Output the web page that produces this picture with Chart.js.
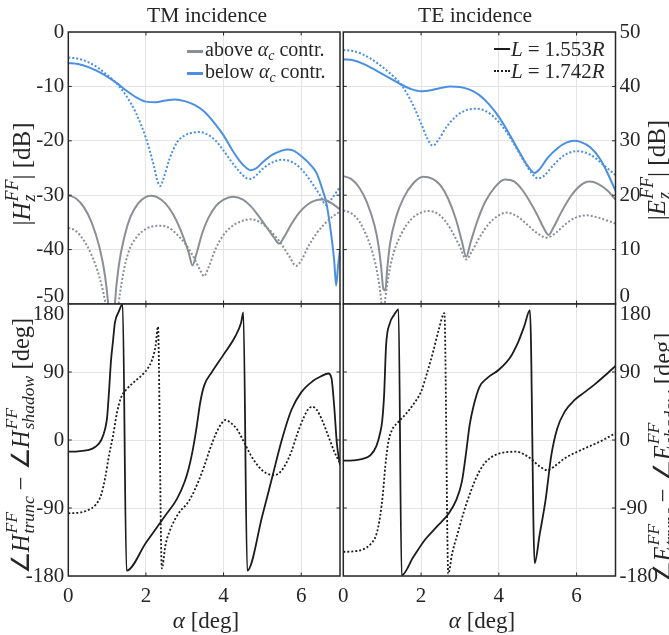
<!DOCTYPE html>
<html><head><meta charset="utf-8">
<script src="https://cdn.jsdelivr.net/npm/chart.js@4/dist/chart.umd.min.js"></script>
<style>
html,body{margin:0;padding:0;background:#fff;}
#wrap{position:relative;width:669px;height:635px;overflow:hidden;font-family:"Liberation Serif","Times New Roman",serif;color:#262626;}
canvas{position:absolute;left:0;top:0;}
.t{position:absolute;white-space:nowrap;transform:translate(-50%,-50%);line-height:1;}
.rot{transform:translate(-50%,-50%) rotate(-90deg);}
.lg{position:absolute;white-space:nowrap;transform:translateY(-50%);line-height:1;font-size:20px;}
.sw{position:absolute;height:0;}
.ss{display:inline-block;vertical-align:-0.3em;font-size:0.72em;line-height:0.95;font-style:italic;text-align:left;margin-left:1px;}
.ss span{display:block;}
sub{font-size:0.7em;vertical-align:-0.25em;font-style:italic;}
.eq{margin:0 5px;}
</style></head>
<body><div id="wrap">
<canvas id="c1" width="669" height="635"></canvas>
<canvas id="c2" width="669" height="635"></canvas>
<canvas id="c3" width="669" height="635"></canvas>
<canvas id="c4" width="669" height="635"></canvas>

<div class="t" style="left:207px;top:16px;font-size:21.5px;">TM incidence</div>
<div class="t" style="left:475px;top:16px;font-size:21.5px;">TE incidence</div>

<div class="t rot" style="left:21px;top:174px;font-size:25px;">|<i>H</i><span class="ss"><span>FF</span><span>z</span></span>| [dB]</div>
<div class="t rot" style="left:656px;top:170px;font-size:25px;">|<i>E</i><span class="ss"><span>FF</span><span>z</span></span>| [dB]</div>
<div class="t rot" style="left:20px;top:446px;font-size:24.5px;">∠<i>H</i><span class="ss"><span>FF</span><span>trunc</span></span> − ∠<i>H</i><span class="ss"><span>FF</span><span>shadow</span></span> [deg]</div>
<div class="t rot" style="left:662px;top:458px;font-size:24.5px;">∠<i>E</i><span class="ss"><span>FF</span><span>trunc</span></span> − ∠<i>E</i><span class="ss"><span>FF</span><span>shadow</span></span> [deg]</div>

<div class="t" style="left:206px;top:620px;font-size:23px;"><i>α</i> [deg]</div>
<div class="t" style="left:482px;top:620px;font-size:23px;"><i>α</i> [deg]</div>

<div class="sw" style="left:187px;top:50px;width:16px;border-top:3px solid #8b8e97;"></div>
<div class="lg" style="left:205px;top:51px;">above <i>α</i><sub>c</sub> contr.</div>
<div class="sw" style="left:187px;top:72px;width:16px;border-top:3px solid #4a90e2;"></div>
<div class="lg" style="left:205px;top:73px;">below <i>α</i><sub>c</sub> contr.</div>

<div class="sw" style="left:494px;top:48px;width:16px;border-top:2px solid #1c1c1c;"></div>
<div class="lg" style="left:511px;top:49px;font-size:21px;"><i>L</i><span class="eq">=</span>1.553<i>R</i></div>
<div class="sw" style="left:494px;top:70px;width:16px;border-top:2px dotted #1c1c1c;"></div>
<div class="lg" style="left:511px;top:71px;font-size:21px;"><i>L</i><span class="eq">=</span>1.742<i>R</i></div>
</div>
<script>
// ---------------- DATA ----------------
const X_TICKS = [0, 2, 4, 6];
const TM_DB_TICKS = [0, -10, -20, -30, -40, -50];
const TE_DB_TICKS = [50, 40, 30, 20, 10, 0];
const PHASE_TICKS = [180, 90, 0, -90, -180];

// TM incidence |Hz| [dB]
const TM_BELOW_1553_A = [0,0.25,0.5,0.75,1,1.25,1.5,1.75,2,2.25,2.5,2.75,3,3.25,3.5,3.75,4,4.25,4.5,4.7,4.85,5,5.25,5.5,5.65,5.8,6,6.25,6.4,6.55,6.65,6.75,6.85,6.9,6.95,7];
const TM_BELOW_1553 = [-5.7,-5.9,-6.4,-7.2,-8.2,-9.4,-10.8,-12.0,-12.8,-12.9,-12.6,-12.4,-12.7,-13.4,-14.6,-16.6,-19.0,-22.0,-24.4,-25.4,-25.0,-24.0,-22.6,-21.8,-21.6,-21.8,-22.8,-24.5,-26.0,-29.0,-31.5,-36,-42,-46.6,-43,-40];
const TM_BELOW_1742_A = [0,0.25,0.5,0.75,1,1.25,1.5,1.75,2,2.2,2.3,2.37,2.45,2.6,2.8,3,3.2,3.4,3.6,3.8,4,4.2,4.4,4.6,4.7,4.85,5,5.25,5.5,5.7,5.9,6.1,6.3,6.5,6.63,6.75,6.9,7];
const TM_BELOW_1742 = [-4.7,-4.9,-5.5,-6.5,-7.9,-9.5,-11.8,-15.0,-19.5,-24.5,-27.5,-28.3,-27.0,-23.5,-20.3,-19.0,-18.5,-18.4,-18.9,-20.0,-21.8,-23.8,-25.6,-26.9,-27.0,-26.3,-25.2,-24.0,-23.5,-23.7,-24.5,-26.0,-28.0,-30.2,-31.8,-31.0,-29.5,-28.5];
const TM_ABOVE_1553_A = [0,0.2,0.4,0.6,0.8,0.95,1.05,1.12,1.2,1.3,1.45,1.6,1.8,2,2.15,2.3,2.5,2.7,2.9,3.1,3.2,3.3,3.45,3.6,3.8,4,4.25,4.5,4.7,4.9,5.1,5.3,5.43,5.55,5.75,5.95,6.15,6.35,6.55,6.75,7];
const TM_ABOVE_1553 = [-30.0,-30.6,-32.2,-35.0,-39.5,-45,-52,-62,-50,-43,-37.5,-34.0,-31.5,-30.3,-30.1,-30.4,-31.5,-33.5,-36.5,-40.5,-42.9,-40.8,-37.0,-34.3,-32.0,-30.8,-30.3,-30.8,-32.0,-33.8,-35.8,-37.8,-38.9,-37.8,-35.3,-33.2,-31.8,-31.0,-30.8,-31.3,-32.6];
const TM_ABOVE_1742_A = [0,0.2,0.4,0.6,0.8,0.95,1.1,1.18,1.27,1.4,1.55,1.75,2,2.2,2.4,2.6,2.8,3,3.2,3.4,3.5,3.6,3.8,4,4.2,4.45,4.7,4.95,5.2,5.45,5.7,5.87,6,6.2,6.4,6.6,6.8,7];
const TM_ABOVE_1742 = [-36.0,-36.6,-38.3,-41.0,-45.0,-49.5,-56,-62,-52,-45,-40.5,-37.8,-36.2,-35.7,-35.6,-36.0,-37.2,-38.8,-41.0,-43.8,-44.9,-43.5,-39.8,-37.3,-35.8,-34.8,-34.4,-35.0,-36.5,-38.6,-41.3,-43.0,-42.0,-39.2,-37.0,-35.3,-34.0,-33.0];

// TE incidence |Ez| [dB]
const TE_BELOW_1553_A = [0,0.25,0.5,0.75,1,1.25,1.5,1.75,2,2.25,2.5,2.75,3,3.25,3.5,3.75,4,4.25,4.5,4.75,4.92,5.05,5.25,5.5,5.75,5.93,6.1,6.35,6.6,6.8,7];
const TE_BELOW_1553 = [45.0,44.8,44.2,43.3,42.3,41.3,40.3,39.5,39.1,39.3,39.7,40.0,39.9,39.4,38.4,36.7,34.4,31.5,28.3,25.3,24.1,24.8,26.8,28.6,29.7,30.0,29.8,28.8,26.7,24.0,20.8];
const TE_BELOW_1742_A = [0,0.25,0.5,0.75,1,1.25,1.5,1.75,2,2.15,2.3,2.45,2.65,2.9,3.15,3.4,3.65,3.9,4.15,4.4,4.65,4.85,5,5.15,5.4,5.65,5.85,6,6.2,6.45,6.7,7];
const TE_BELOW_1742 = [46.7,46.5,45.9,44.9,43.6,42.1,40.2,37.2,33.2,30.6,29.1,30.2,32.5,34.5,35.6,35.9,35.5,34.2,32.1,29.3,26.2,24.0,23.1,23.5,25.5,27.2,27.9,28.1,27.9,27.0,25.5,23.7];
const TE_ABOVE_1553_A = [0,0.2,0.4,0.6,0.8,0.9,0.97,1.03,1.08,1.13,1.2,1.35,1.55,1.8,2.05,2.3,2.5,2.7,2.9,3.05,3.16,3.28,3.45,3.65,3.9,4.15,4.4,4.6,4.8,5,5.15,5.28,5.4,5.6,5.85,6.1,6.33,6.55,6.8,7];
const TE_ABOVE_1553 = [23.5,23.0,21.5,18.8,14.5,11.0,7.0,2.8,2.5,6.5,11.0,15.8,19.5,22.2,23.4,23.0,21.8,19.3,15.5,11.5,8.7,11.5,15.3,18.8,21.5,22.9,22.5,21.0,18.8,16.2,14.0,12.7,14.0,16.8,19.8,21.8,22.5,22.1,20.8,19.2];
const TE_ABOVE_1742_A = [0,0.2,0.4,0.6,0.75,0.88,0.97,1.02,1.08,1.17,1.3,1.5,1.75,2,2.2,2.45,2.65,2.85,3,3.16,3.3,3.5,3.75,4,4.2,4.45,4.7,4.95,5.23,5.45,5.7,5.95,6.25,6.55,6.8,7];
const TE_ABOVE_1742 = [17.2,16.7,15.3,12.5,9.5,5.5,1.0,-3,1.0,5.5,9.5,13.0,15.6,16.8,17.1,16.5,15.0,12.6,10.5,8.2,9.6,12.2,14.8,16.3,16.8,16.2,14.8,13.2,12.2,13.0,14.6,15.8,16.3,15.9,15.3,14.8];

// TM phase difference [deg]
const TM_PH_1553_A = [0,0.25,0.5,0.7,0.85,0.95,1,1.05,1.1,1.15,1.2,1.3,1.4,1.5,2,2.5,2.8,3,3.1,3.2,3.3,3.4,3.5,3.7,4,4.3,4.45,4.51,4.61,5,5.25,5.5,5.75,6,6.3,6.5,6.7,6.78,6.85,6.92,7];
const TM_PH_1553 = [-15.5,-15.0,-13.5,-9,0,15,30,65,105,130,155,170,180,-173,-136,-100,-78,-55,-38,-15,15,50,72,90,113,137,155,169,-173,-100,-50,0,40,63,78,84,88,82,45,-5,-33];
const TM_PH_1742_A = [0,0.3,0.5,0.7,0.85,0.95,1.05,1.15,1.25,1.35,1.5,1.7,1.9,2.05,2.15,2.25,2.31,2.41,2.5,2.6,2.75,2.9,3.05,3.2,3.35,3.5,3.65,3.8,3.95,4.05,4.2,4.35,4.5,4.7,4.9,5.1,5.3,5.45,5.6,5.75,5.9,6.05,6.17,6.28,6.4,6.55,6.7,6.85,7];
const TM_PH_1742 = [-97,-96,-93,-86,-72,-50,-20,5,35,55,67,77,86,95,105,125,150,-170,-140,-122,-105,-93,-85,-72,-55,-35,-12,8,22,26.5,22,14,0,-20,-35,-44,-46.5,-43,-32,-15,8,28,40,44,40,25,5,-15,-31];

// TE phase difference [deg]
const TE_PH_1553_A = [0,0.25,0.5,0.7,0.85,0.95,1,1.05,1.1,1.2,1.3,1.42,1.5,1.8,2.1,2.4,2.7,2.9,3.05,3.15,3.25,3.35,3.5,3.7,4,4.3,4.5,4.65,4.8,4.92,5.05,5.2,5.35,5.5,5.7,5.95,6.2,6.45,6.7,7];
const TE_PH_1553 = [-27.4,-27,-25,-20,-8,10,25,60,125,155,165,173,-179,-155,-132,-115,-98,-80,-55,-20,20,45,70,82,93,110,130,150,172,-163,-125,-80,-20,15,38,53,63,73,84,98];
const TE_PH_1742_A = [0,0.25,0.5,0.7,0.85,0.95,1.02,1.08,1.15,1.25,1.4,1.6,1.8,2,2.15,2.3,2.45,2.6,2.7,2.8,2.95,3.1,3.25,3.4,3.6,3.8,4,4.2,4.45,4.65,4.85,5.05,5.25,5.45,5.7,6,6.3,6.6,7];
const TE_PH_1742 = [-148,-147.5,-145,-138,-125,-100,-70,-35,-5,13,23,34,47,64,88,115,145,168,-177,-150,-122,-95,-72,-52,-33,-23,-18,-16,-15.5,-19,-26,-35,-40,-34,-24,-16,-9,-2,8.8];

// ---------------- STYLE ----------------
const BLUE = '#4a90e2', GRAY = '#8b8e97', BLACK = '#1c1c1c', INK = '#262626';
const FONT = '"Liberation Serif", "Times New Roman", serif';
const TICK_SIZE = 21;
const W = 669, H = 635;
const XL = [68.3, 340], XR = [343.3, 615.5], YT = [32, 304], YB = [304, 576];

function pts(a, v) { return a.map((x, i) => ({x: x, y: v[i]})); }
function ds(a, v, color, dotted, w) {
  return {data: pts(a, v), borderColor: color, borderWidth: w, borderDash: dotted ? [2, 2] : [],
    pointRadius: 0, fill: false, cubicInterpolationMode: 'monotone'};
}

const framePlugin = {
  id: 'frame',
  afterDraw(chart, args, opts) {
    const ctx = chart.ctx, a = chart.chartArea;
    const xs = chart.scales.x, ys = chart.scales.y;
    ctx.save();
    ctx.strokeStyle = INK; ctx.lineWidth = 1;
    const L = 3.5;
    ctx.beginPath();
    xs.ticks.forEach(t => { const p = xs.getPixelForValue(t.value); if (p <= a.left + 1 || p >= a.right - 1) return;
      ctx.moveTo(p, a.bottom); ctx.lineTo(p, a.bottom - L); ctx.moveTo(p, a.top); ctx.lineTo(p, a.top + L); });
    ys.ticks.forEach(t => { const p = ys.getPixelForValue(t.value); if (p <= a.top + 1 || p >= a.bottom - 1) return;
      ctx.moveTo(a.left, p); ctx.lineTo(a.left + L, p); ctx.moveTo(a.right, p); ctx.lineTo(a.right - L, p); });
    ctx.stroke();
    ctx.lineWidth = 1.5;
    ctx.strokeRect(a.left, a.top, a.right - a.left, a.bottom - a.top);
    if (opts.edge) {
      const e = opts.edge;
      ctx.font = TICK_SIZE + 'px ' + FONT; ctx.fillStyle = INK; ctx.textBaseline = 'middle';
      ctx.textAlign = e.side === 'left' ? 'right' : 'left';
      const x = e.side === 'left' ? a.left - 4 : a.right + 4;
      ctx.fillText(String(e.v), x, ys.getPixelForValue(e.v) + e.dy);
    }
    ctx.restore();
  }
};

function make(id, o) {
  const left = o.side === 'left';
  const xr = o.xr, yr = o.yr;
  const yW = left ? xr[0] : W - xr[1];
  const xH = o.showX ? H - yr[1] : 0;
  const pad = {
    left: left ? 0 : xr[0],
    right: left ? W - xr[1] : 0,
    top: yr[0],
    bottom: o.showX ? 0 : H - yr[1]
  };
  new Chart(document.getElementById(id), {
    type: 'line',
    data: {datasets: o.datasets},
    plugins: [framePlugin],
    options: {
      responsive: false, animation: false, events: [],
      layout: {padding: pad},
      plugins: {legend: {display: false}, tooltip: {enabled: false}, frame: {edge: o.edge}},
      scales: {
        x: {type: 'linear', min: 0, max: 7, position: 'bottom',
          afterBuildTicks: s => { s.ticks = X_TICKS.map(v => ({value: v})); },
          afterFit: s => { s.height = xH; },
          grid: {color: '#e4e4e4', lineWidth: 1, drawTicks: false},
          border: {display: false},
          ticks: {display: o.showX, padding: 8, color: INK, font: {family: FONT, size: TICK_SIZE}}},
        y: {type: 'linear', min: o.ymin, max: o.ymax, position: o.side,
          afterBuildTicks: s => { s.ticks = o.yticks.map(v => ({value: v})); },
          afterFit: s => { s.width = yW; },
          grid: {color: '#e4e4e4', lineWidth: 1, drawTicks: false},
          border: {display: false},
          ticks: {padding: 4, color: INK, font: {family: FONT, size: TICK_SIZE},
            callback: v => (o.edge && v === o.edge.v) ? '' : String(v)}}
      }
    }
  });
}

make('c1', {side: 'left', xr: XL, yr: YT, ymin: -50, ymax: 0, yticks: TM_DB_TICKS, showX: false,
  edge: {v: -50, dy: -8, side: 'left'},
  datasets: [
    ds(TM_ABOVE_1742_A, TM_ABOVE_1742, GRAY, true, 2),
    ds(TM_ABOVE_1553_A, TM_ABOVE_1553, GRAY, false, 2),
    ds(TM_BELOW_1742_A, TM_BELOW_1742, BLUE, true, 2),
    ds(TM_BELOW_1553_A, TM_BELOW_1553, BLUE, false, 2)]});
make('c2', {side: 'right', xr: XR, yr: YT, ymin: 0, ymax: 50, yticks: TE_DB_TICKS, showX: false,
  edge: {v: 0, dy: -8, side: 'right'},
  datasets: [
    ds(TE_ABOVE_1742_A, TE_ABOVE_1742, GRAY, true, 2),
    ds(TE_ABOVE_1553_A, TE_ABOVE_1553, GRAY, false, 2),
    ds(TE_BELOW_1742_A, TE_BELOW_1742, BLUE, true, 2),
    ds(TE_BELOW_1553_A, TE_BELOW_1553, BLUE, false, 2)]});
make('c3', {side: 'left', xr: XL, yr: YB, ymin: -180, ymax: 180, yticks: PHASE_TICKS, showX: true,
  edge: {v: 180, dy: 10, side: 'left'},
  datasets: [
    ds(TM_PH_1742_A, TM_PH_1742, BLACK, true, 1.8),
    ds(TM_PH_1553_A, TM_PH_1553, BLACK, false, 1.8)]});
make('c4', {side: 'right', xr: XR, yr: YB, ymin: -180, ymax: 180, yticks: PHASE_TICKS, showX: true,
  edge: {v: 180, dy: 10, side: 'right'},
  datasets: [
    ds(TE_PH_1742_A, TE_PH_1742, BLACK, true, 1.8),
    ds(TE_PH_1553_A, TE_PH_1553, BLACK, false, 1.8)]});
</script>
</body></html>
